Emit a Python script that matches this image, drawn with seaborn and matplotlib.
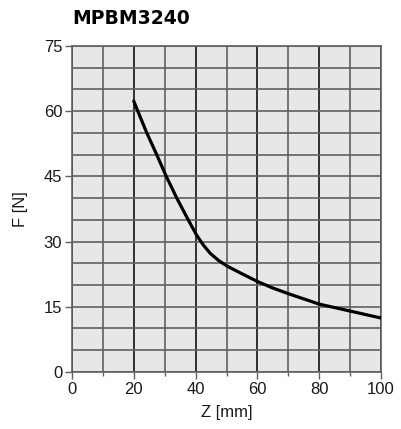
import matplotlib
matplotlib.use("Agg")
import matplotlib.pyplot as plt
import seaborn as sns
import pandas as pd
from matplotlib.ticker import MultipleLocator

z_mm = [20, 21.3, 24.2, 27.4, 30.5, 33.9, 37.6, 40.3, 42.5, 44.7, 47.5, 50.3, 54.4, 60, 65, 70, 80, 90, 100]
force_n = [62.3, 60.0, 55.0, 50.0, 45.0, 40.0, 35.0, 31.5, 29.2, 27.3, 25.6, 24.3, 22.8, 20.8, 19.3, 18.0, 15.6, 14.0, 12.4]
x_ticks = [0, 20, 40, 60, 80, 100]
y_ticks = [0, 15, 30, 45, 60, 75]

sns.set_theme(style="white")
plt.rcParams['font.family'] = ['Liberation Sans', 'DejaVu Sans']
plt.rcParams['text.color'] = '#1a1a1a'
plt.rcParams['axes.labelcolor'] = '#1a1a1a'
plt.rcParams['xtick.labelcolor'] = '#1a1a1a'
plt.rcParams['ytick.labelcolor'] = '#1a1a1a'

df = pd.DataFrame({"Z": z_mm, "F": force_n})

fig = plt.figure(figsize=(4.02, 4.29), dpi=100)
ax = fig.add_axes([0.179, 0.133, 0.769, 0.760])
ax.set_facecolor("#e6e7e8")

sns.lineplot(data=df, x="Z", y="F", ax=ax, color="black", linewidth=2.3, zorder=5)

ax.set_xlim(0, 100)
ax.set_ylim(0, 75)
ax.set_xticks(x_ticks)
ax.set_yticks(y_ticks)
ax.xaxis.set_minor_locator(MultipleLocator(10))
ax.yaxis.set_minor_locator(MultipleLocator(5))
ax.grid(which="minor", axis="both", color="#606060", linewidth=1.2, zorder=1)
ax.grid(which="major", axis="y", color="#606060", linewidth=1.2, zorder=1)
ax.grid(which="major", axis="x", color="#111111", linewidth=1.2, zorder=2)
ax.set_axisbelow(True)
for s in ax.spines.values():
    s.set_color("#606060")
    s.set_linewidth(1.2)

ax.tick_params(axis="both", which="major", labelsize=12, length=5, width=1.0,
               color="#606060", labelcolor="#1a1a1a", direction="out",
               bottom=True, left=True, pad=2)
ax.tick_params(axis="x", which="minor", length=3, width=1.0, color="#606060", bottom=True)
ax.tick_params(axis="y", which="minor", length=0)

ax.set_xlabel("Z [mm]", fontsize=12, labelpad=6)
ax.set_ylabel("F [N]", fontsize=12, labelpad=11)

fig.text(0.179, 0.958, "MPBM3240", fontsize=13.5, fontweight="bold",
         family=["DejaVu Sans"], color="black", ha="left", va="center")

fig.savefig("out.png", dpi=100)
